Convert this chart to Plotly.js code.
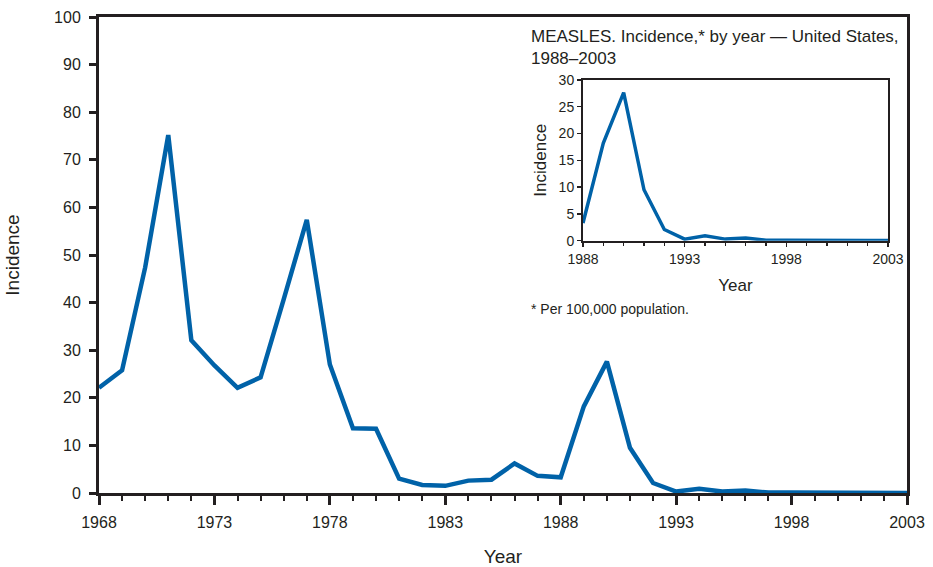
<!DOCTYPE html>
<html>
<head>
<meta charset="utf-8">
<script src="https://cdn.plot.ly/plotly-3.0.1.min.js"></script>
<style>html,body{margin:0;padding:0;background:#fff;}#chart{width:933px;height:567px;}</style>
</head>
<body>
<div id="chart"></div>
<script>
const years = [1968,1969,1970,1971,1972,1973,1974,1975,1976,1977,1978,1979,1980,1981,1982,1983,1984,1985,1986,1987,1988,1989,1990,1991,1992,1993,1994,1995,1996,1997,1998,1999,2000,2001,2002,2003];
const incidence = [22.1,25.8,47.4,75.2,32.1,26.8,22.1,24.3,40.7,57.4,27.0,13.6,13.5,3.0,1.7,1.5,2.6,2.8,6.2,3.6,3.3,18.2,27.6,9.5,2.1,0.3,0.9,0.3,0.5,0.1,0.1,0.04,0.03,0.04,0.02,0.02];
const insetYears = years.filter(y => y >= 1988);
const insetIncidence = incidence.slice(years.indexOf(1988));
const mainTickVals = [1968,1973,1978,1983,1988,1993,1998,2003];
const insetTickVals = [1988,1993,1998,2003];

const lineColor = '#0062a8';
const axisColor = '#231f20';
const font = 'Liberation Sans, Arial, sans-serif';

const traces = [
  {x: years, y: incidence, type: 'scatter', mode: 'lines', line: {color: lineColor, width: 4.5}, xaxis: 'x', yaxis: 'y', hoverinfo: 'x+y'},
  {x: insetYears, y: insetIncidence, type: 'scatter', mode: 'lines', line: {color: lineColor, width: 3.5}, xaxis: 'x2', yaxis: 'y2', hoverinfo: 'x+y'}
];

const layout = {
  width: 933, height: 567,
  margin: {l: 99, r: 26, t: 17, b: 73.5},
  paper_bgcolor: '#fff', plot_bgcolor: 'rgba(0,0,0,0)',
  showlegend: false,
  font: {family: font, color: axisColor, size: 16},
  xaxis: {
    domain: [0, 1], range: [1968, 2003], tickvals: mainTickVals,
    showline: true, linecolor: axisColor, linewidth: 3, mirror: true,
    ticks: 'outside', ticklen: 9, tickwidth: 3, tickcolor: axisColor,
    minor: {dtick: 1, tick0: 1968, ticks: 'outside', ticklen: 5, tickwidth: 2, tickcolor: axisColor},
    showgrid: false, zeroline: false, tickfont: {size: 16}, ticklabelstandoff: 4,
    title: {text: 'Year', font: {size: 19}, standoff: 22}
  },
  yaxis: {
    domain: [0, 1], range: [0, 100], dtick: 10,
    showline: true, linecolor: axisColor, linewidth: 3, mirror: true,
    ticks: 'outside', ticklen: 7, tickwidth: 3, tickcolor: axisColor,
    showgrid: false, zeroline: false, tickfont: {size: 16}, ticklabelstandoff: 5,
    title: {text: 'Incidence', font: {size: 19}, standoff: 30}
  },
  xaxis2: {
    domain: [0.599, 0.9765], anchor: 'y2', range: [1988, 2003], tickvals: insetTickVals,
    showline: true, linecolor: axisColor, linewidth: 2, mirror: true,
    ticks: 'outside', ticklen: 4, tickwidth: 1.5, tickcolor: axisColor,
    minor: {dtick: 1, tick0: 1988, ticks: 'outside', ticklen: 3, tickwidth: 1.5, tickcolor: axisColor},
    showgrid: false, zeroline: false, tickfont: {size: 14},
    title: {text: 'Year', font: {size: 17}, standoff: 14}
  },
  yaxis2: {
    domain: [0.530, 0.868], anchor: 'x2', range: [0, 30], dtick: 5,
    showline: true, linecolor: axisColor, linewidth: 2, mirror: true,
    ticks: 'outside', ticklen: 4, tickwidth: 1.5, tickcolor: axisColor,
    showgrid: false, zeroline: false, tickfont: {size: 14},
    title: {text: 'Incidence', font: {size: 17}, standoff: 8}
  },
  annotations: [
    {xref: 'paper', yref: 'paper', x: 0.532, y: 1.0, xanchor: 'left', yanchor: 'top', yshift: -8, align: 'left',
     showarrow: false, text: 'MEASLES. Incidence,* by year — United States,<br>1988–2003', font: {size: 17, color: axisColor}},
    {xref: 'paper', yref: 'paper', x: 0.532, y: 0.387, xanchor: 'left', yanchor: 'middle', align: 'left',
     showarrow: false, text: '* Per 100,000 population.', font: {size: 14, color: axisColor}}
  ]
};

Plotly.newPlot('chart', traces, layout, {displayModeBar: false, staticPlot: true});
</script>
</body>
</html>
